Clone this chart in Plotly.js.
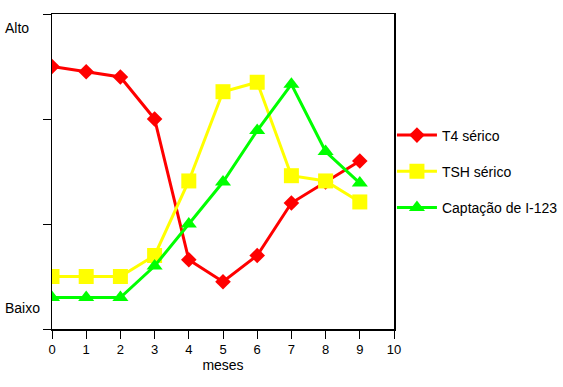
<!DOCTYPE html>
<html>
<head>
<meta charset="utf-8">
<script src="https://cdn.plot.ly/plotly-3.0.1.min.js"></script>
<style>html,body{margin:0;padding:0;background:#fff;}</style>
</head>
<body>
<div id="chart" style="width:563px;height:387px;"></div>
<script>
const months = [0, 1, 2, 3, 4, 5, 6, 7, 8, 9];
const t4 = [2.50, 2.45, 2.40, 2.00, 0.66, 0.45, 0.70, 1.20, 1.40, 1.60];
const tsh = [0.50, 0.50, 0.50, 0.70, 1.41, 2.26, 2.35, 1.46, 1.41, 1.21];
const uptake = [0.30, 0.30, 0.30, 0.60, 1.00, 1.40, 1.89, 2.33, 1.69, 1.39];
const seriesNames = ['T4 sérico', 'TSH sérico', 'Captação de I-123'];
const xTicks = [0, 1, 2, 3, 4, 5, 6, 7, 8, 9, 10];
const yLevelLabels = ['Alto', 'Baixo'];
const yLevelPos = [2.87, 0.2];

const font = {family: 'Liberation Sans, Arial, sans-serif', size: 13, color: '#000'};

const traces = [
  {x: months, y: t4, name: seriesNames[0], legendgroup: 'a', mode: 'lines+markers',
   line: {color: '#ff0000', width: 3}, marker: {symbol: 'diamond', size: 12, color: '#ff0000'}},
  {x: months, y: tsh, name: seriesNames[1], legendgroup: 'b', mode: 'lines+markers',
   line: {color: '#ffff00', width: 3}, marker: {symbol: 'square', size: 15, color: '#ffff00'}},
  {x: months, y: uptake, name: seriesNames[2], legendgroup: 'c', mode: 'lines+markers',
   line: {color: '#00ff00', width: 3}, marker: {symbol: 'triangle-up', size: 14, color: '#00ff00'}}
];

const layout = {
  width: 563, height: 387,
  margin: {l: 52, r: 169, t: 14, b: 58, autoexpand: false},
  paper_bgcolor: '#fff', plot_bgcolor: '#fff',
  font: font,
  showlegend: true,
  legend: {x: 0.994, xanchor: 'left', y: 0.5, yanchor: 'middle', font: {family: font.family, size: 14},
           tracegroupgap: 15, traceorder: 'grouped', itemwidth: 40, bgcolor: 'rgba(0,0,0,0)'},
  xaxis: {range: [0, 10], tickvals: xTicks, ticktext: xTicks.map(String), ticks: 'outside', ticklen: 8,
          tickcolor: '#000', linecolor: '#000', linewidth: 1.5, showline: true, mirror: true,
          showgrid: false, zeroline: false, tickfont: {size: 13},
          title: {text: 'meses', font: {size: 14}, standoff: 4}},
  yaxis: {range: [0, 3], tickvals: [0, 1, 2, 3], ticktext: ['', '', '', ''], ticks: 'outside', ticklen: 8,
          tickcolor: '#000', linecolor: '#000', linewidth: 1.5, showline: true, mirror: true,
          showgrid: false, zeroline: false},
  annotations: yLevelLabels.map((t, i) => ({
    text: t, xref: 'paper', yref: 'y', x: -0.143, y: yLevelPos[i], xanchor: 'left', yanchor: 'middle',
    showarrow: false, font: {size: 14, family: font.family}
  }))
};

Plotly.newPlot('chart', traces, layout, {staticPlot: true});
</script>
</body>
</html>
